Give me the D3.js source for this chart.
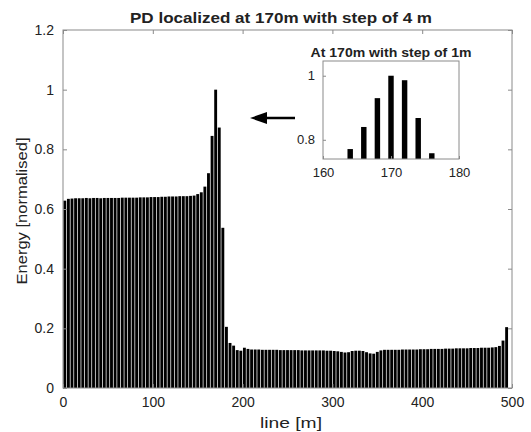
<!DOCTYPE html>
<html>
<head>
<meta charset="utf-8">
<script src="https://cdn.jsdelivr.net/npm/d3@7"></script>
<style>
  body { margin: 0; background: white; }
  text { font-family: "Liberation Sans", Arial, sans-serif; fill: #222; }
</style>
</head>
<body>
<div id="chart"></div>
<script>
// Main series: bar centres every 4 m, starting at 2 m
const positions = d3.range(2, 500, 4);
const energy = [
  .628, .634, .635, .636, .636, .636, .637, .636, .637, .637,
  .636, .637, .637, .637, .637, .637, .638, .638, .638, .638,
  .638, .639, .639, .639, .640, .640, .640, .641, .641, .642,
  .642, .642, .643, .643, .643, .644, .645, .650, .656, .675,
  .720, .845, 1.00, .873, .537, .205, .151, .142, .127, .125,
  .135, .131, .129, .129, .129, .128, .128, .128, .128, .128,
  .127, .127, .127, .127, .127, .127, .126, .126, .126, .126,
  .126, .126, .126, .125, .125, .124, .123, .121, .119, .120,
  .124, .125, .125, .124, .120, .116, .115, .121, .126, .128,
  .128, .128, .128, .128, .129, .129, .129, .129, .129, .130,
  .130, .130, .131, .131, .131, .131, .132, .132, .132, .133,
  .133, .133, .133, .134, .134, .134, .135, .135, .135, .136,
  .137, .141, .159, .204
];
// Inset series: step of 1 m around 170 m
const insetPos = [164, 166, 168, 170, 172, 174, 176];
const insetEnergy = [0.771, 0.840, 0.930, 1.000, 0.986, 0.868, 0.758];

const xTicks = [0, 100, 200, 300, 400, 500];
const yTicks = [0, 0.2, 0.4, 0.6, 0.8, 1, 1.2];
const insetXTicks = [160, 170, 180];
const insetYTicks = [0.8, 1];

const width = 531, height = 432;
const axisColor = "#8a8a8a";
const font = "Liberation Sans, Arial, sans-serif";

const svg = d3.select("#chart").append("svg")
  .attr("width", width)
  .attr("height", height);

// Main axes
const x = d3.scaleLinear().domain([0, 500]).range([63, 512]);
const y = d3.scaleLinear().domain([0, 1.2]).range([388, 30]);

svg.append("defs").append("clipPath").attr("id", "clip")
  .append("rect")
  .attr("x", 63).attr("y", 30)
  .attr("width", 512 - 63).attr("height", 388 - 30);

svg.append("g").attr("clip-path", "url(#clip)")
  .selectAll("rect")
  .data(energy)
  .enter().append("rect")
  .attr("x", (d, i) => x(positions[i] - 1.6))
  .attr("width", x(3.2) - x(0))
  .attr("y", d => y(d))
  .attr("height", d => y(0) - y(d))
  .attr("fill", "black");

function styleAxis(g) {
  g.select(".domain").remove();
  g.selectAll(".tick line").attr("stroke", axisColor);
  g.selectAll(".tick text").attr("fill", "#222");
}

svg.append("g")
  .attr("transform", "translate(0,388)")
  .call(d3.axisBottom(x).tickValues(xTicks).tickSize(-4).tickPadding(9).tickFormat(d3.format("d")))
  .call(styleAxis)
  .selectAll("text").style("font-size", "14px").style("font-family", font);

svg.append("g")
  .attr("transform", "translate(0,30)")
  .call(d3.axisTop(x).tickValues(xTicks).tickSize(-4).tickFormat(""))
  .call(styleAxis);

svg.append("g")
  .attr("transform", "translate(63,0)")
  .call(d3.axisLeft(y).tickValues(yTicks).tickSize(-4).tickPadding(9).tickFormat(d => d3.format("")(d)))
  .call(styleAxis)
  .selectAll("text").style("font-size", "14px").style("font-family", font);

svg.append("g")
  .attr("transform", "translate(512,0)")
  .call(d3.axisRight(y).tickValues(yTicks).tickSize(-4).tickFormat(""))
  .call(styleAxis);

svg.append("rect")
  .attr("x", 63).attr("y", 30)
  .attr("width", 512 - 63).attr("height", 388 - 30)
  .attr("fill", "none")
  .attr("stroke", axisColor);

// Titles and labels
svg.append("text")
  .attr("x", 281).attr("y", 23)
  .attr("text-anchor", "middle")
  .attr("textLength", 302).attr("lengthAdjust", "spacingAndGlyphs")
  .style("font-size", "15px").style("font-weight", "bold")
  .text("PD localized at 170m with step of 4 m");

svg.append("text")
  .attr("x", 291).attr("y", 428)
  .attr("text-anchor", "middle")
  .attr("textLength", 62).attr("lengthAdjust", "spacingAndGlyphs")
  .style("font-size", "15px")
  .text("line [m]");

svg.append("text")
  .attr("transform", "translate(27,211) rotate(-90)")
  .attr("text-anchor", "middle")
  .attr("textLength", 147).attr("lengthAdjust", "spacingAndGlyphs")
  .style("font-size", "14.5px")
  .text("Energy [normalised]");

// Arrow pointing at the peak
svg.append("line")
  .attr("x1", 295).attr("y1", 118)
  .attr("x2", 262).attr("y2", 118)
  .attr("stroke", "black").attr("stroke-width", 2.5);
svg.append("path")
  .attr("d", "M250,118 L267,112 L267,124 Z")
  .attr("fill", "black");

// Inset
const ix = d3.scaleLinear().domain([160, 180]).range([323, 459]);
const iy = d3.scaleLinear().domain([0.74, 1.046]).range([159, 61]);
const inset = svg.append("g");

inset.append("rect")
  .attr("x", 323).attr("y", 61)
  .attr("width", 459 - 323).attr("height", 159 - 61)
  .attr("fill", "white");

inset.selectAll(".ibar")
  .data(insetEnergy)
  .enter().append("rect")
  .attr("class", "ibar")
  .attr("x", (d, i) => ix(insetPos[i] - 0.4))
  .attr("width", ix(0.8) - ix(0))
  .attr("y", d => iy(d))
  .attr("height", d => iy(0.74) - iy(d))
  .attr("fill", "black");

inset.append("g")
  .attr("transform", "translate(0,159)")
  .call(d3.axisBottom(ix).tickValues(insetXTicks).tickSize(-3).tickPadding(9))
  .call(styleAxis)
  .selectAll("text").style("font-size", "13px").style("font-family", font);

inset.append("g")
  .attr("transform", "translate(323,0)")
  .call(d3.axisLeft(iy).tickValues(insetYTicks).tickSize(-3).tickPadding(8).tickFormat(d => d3.format("")(d)))
  .call(styleAxis)
  .selectAll("text").style("font-size", "13px").style("font-family", font);

inset.append("rect")
  .attr("x", 323).attr("y", 61)
  .attr("width", 459 - 323).attr("height", 159 - 61)
  .attr("fill", "none")
  .attr("stroke", axisColor);

inset.append("text")
  .attr("x", 391).attr("y", 56.5)
  .attr("text-anchor", "middle")
  .attr("textLength", 161).attr("lengthAdjust", "spacingAndGlyphs")
  .style("font-size", "12px").style("font-weight", "bold")
  .text("At 170m with step of 1m");
</script>
</body>
</html>
